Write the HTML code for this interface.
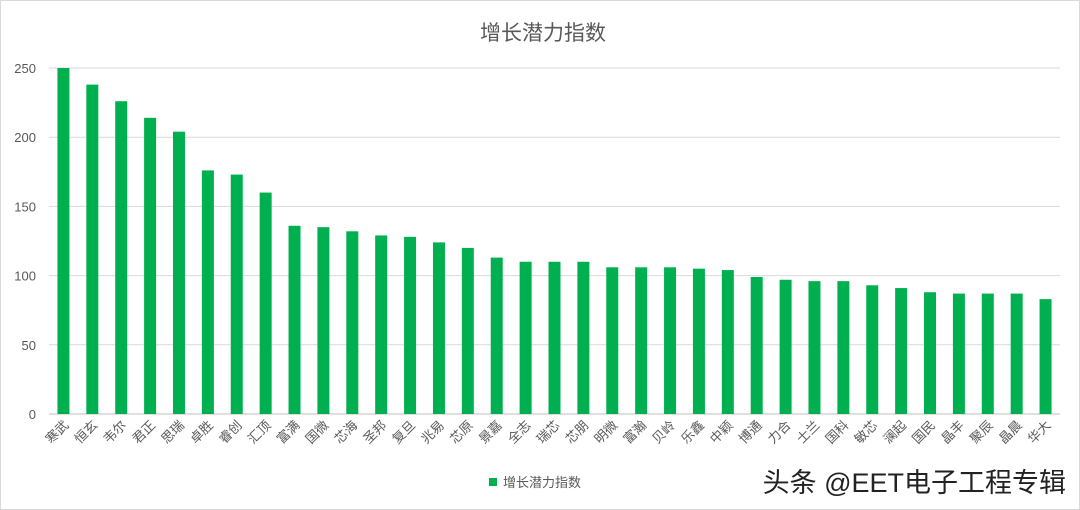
<!DOCTYPE html>
<html><head><meta charset="utf-8"><style>
html,body{margin:0;padding:0;background:#fff;}
svg{display:block;font-family:"Liberation Sans","Noto Sans CJK SC",sans-serif;}
</style></head><body>
<svg id="chart" width="1080" height="510">
<rect x="0.5" y="0.5" width="1079" height="509" fill="#fff" stroke="#d9d9d9"/>
<text x="543" y="40" text-anchor="middle" font-size="21" fill="#595959">增长潜力指数</text>
<g id="grid"></g><g id="bars"></g><g id="xl"></g><g id="yl"></g>
<rect x="489" y="478" width="8" height="8" fill="#00b050"/>
<text x="503" y="487" font-size="13" fill="#595959">增长潜力指数</text>
<text x="1066" y="492" text-anchor="end" font-size="27" fill="#222">头条 @EET电子工程专辑</text>
</svg>
<script>
const categories=["寒武","恒玄","韦尔","君正","思瑞","卓胜","睿创","汇顶","富满","国微","芯海","圣邦","复旦","兆易","芯原","景嘉","全志","瑞芯","芯朋","明微","富瀚","贝岭","乐鑫","中颖","博通","力合","士兰","国科","敏芯","澜起","国民","晶丰","聚辰","晶晨","华大"];
const values=[250,238,226,214,204,176,173,160,136,135,132,129,128,124,120,113,110,110,110,106,106,106,105,104,99,97,96,96,93,91,88,87,87,87,83];
const yTicks=[0,50,100,150,200,250];
const NS="http://www.w3.org/2000/svg";
const x0=49,x1=1060,y0=414,y1=68,yMax=250;
const band=(x1-x0)/categories.length;
const xC=i=>x0+band*(i+0.5);
const yS=v=>y0-(v/yMax)*(y0-y1);
function mk(t,a,p){const e=document.createElementNS(NS,t);for(const k in a)e.setAttribute(k,a[k]);p.appendChild(e);return e;}
const G=document.getElementById('grid'),B=document.getElementById('bars'),XL=document.getElementById('xl'),YL=document.getElementById('yl');
yTicks.forEach(t=>{
 const l=mk('line',{x1:x0,x2:x1,y1:yS(t),y2:yS(t),stroke:t===0?'#bfbfbf':'#d9d9d9','stroke-width':1},G);
 
 
 const tx=mk('text',{x:36,y:yS(t)+5,'text-anchor':'end','font-size':13,fill:'#595959'},YL);
 tx.textContent=t;
 
 
});
categories.forEach((c,i)=>{
 const w=12;
 const r=mk('rect',{x:xC(i)-w/2,y:yS(values[i]),width:w,height:y0-yS(values[i]),fill:'#00b050'},B);
 
 
 const tx=mk('text',{x:xC(i)+6,y:426,'text-anchor':'end','font-size':13,fill:'#595959',transform:`rotate(-45 ${xC(i)+6} 426)`},XL);
 tx.textContent=c;
 
 
});
</script>
</body></html>
